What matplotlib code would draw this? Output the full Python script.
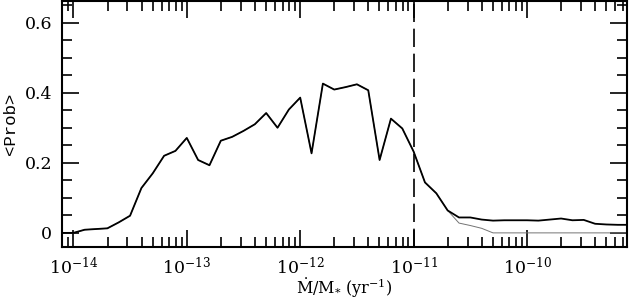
import matplotlib
matplotlib.use("Agg")
import matplotlib.pyplot as plt
from matplotlib.ticker import MultipleLocator, LogLocator, NullFormatter
import numpy as np

# log10 of accretion rate (Msun/yr) for each bin
log_mdot = [-14.1, -14.0, -13.9, -13.8, -13.7, -13.6, -13.5, -13.4, -13.3, -13.2,
            -13.1, -13.0, -12.9, -12.8, -12.7, -12.6, -12.5, -12.4, -12.3, -12.2,
            -12.1, -12.0, -11.9, -11.8, -11.7, -11.6, -11.5, -11.4, -11.3, -11.2,
            -11.1, -11.0, -10.9, -10.8, -10.7, -10.6, -10.5, -10.4, -10.3, -10.2,
            -10.1, -10.0, -9.9, -9.8, -9.7, -9.6, -9.5, -9.4, -9.3, -9.2, -9.1]

prob_all = [0.0, 0.0, 0.009, 0.011, 0.013, 0.030, 0.049, 0.128, 0.170, 0.220,
            0.234, 0.271, 0.208, 0.193, 0.263, 0.274, 0.291, 0.310, 0.342, 0.300,
            0.352, 0.386, 0.227, 0.426, 0.409, 0.416, 0.424, 0.407, 0.208, 0.326,
            0.298, 0.232, 0.144, 0.113, 0.064, 0.044, 0.044, 0.038, 0.035, 0.036,
            0.036, 0.036, 0.035, 0.038, 0.041, 0.036, 0.037, 0.026, 0.024, 0.023, 0.023]

prob_thin = [0.0, 0.0, 0.009, 0.011, 0.013, 0.030, 0.049, 0.128, 0.170, 0.220,
             0.234, 0.271, 0.208, 0.193, 0.263, 0.274, 0.291, 0.310, 0.342, 0.300,
             0.352, 0.386, 0.227, 0.426, 0.409, 0.416, 0.424, 0.407, 0.208, 0.326,
             0.298, 0.232, 0.144, 0.113, 0.064, 0.028, 0.021, 0.013, 0.0, 0.0,
             0.0, 0.0, 0.0, 0.0, 0.0, 0.0, 0.0, 0.0, 0.0, 0.0, 0.0]

xtick_vals = [1e-14, 1e-13, 1e-12, 1e-11, 1e-10]
ytick_vals = [0, 0.2, 0.4, 0.6]
ytick_labels = ['0', '0.2', '0.4', '0.6']

mdot_cut = 1e-11

plt.rcParams['font.family'] = ['DejaVu Serif']
plt.rcParams['mathtext.fontset'] = 'dejavuserif'

mdot = 10.0 ** np.array(log_mdot)

fig = plt.figure(figsize=(6.29, 3.0), dpi=100)
ax = fig.add_axes([0.0986, 0.177, 0.898, 0.82])

ax.plot(mdot, prob_thin, color='0.45', lw=0.7)
ax.plot(mdot, prob_all, color='black', lw=1.3)
ax.axvline(mdot_cut, color='black', lw=1.2, dashes=(11, 4))

ax.set_xscale('log')
ax.set_xlim(10 ** -14.1, 10 ** -9.12)
ax.set_ylim(-0.04, 0.662)

ax.set_yticks(ytick_vals)
ax.set_yticklabels(ytick_labels)
ax.yaxis.set_minor_locator(MultipleLocator(0.05))
ax.set_xticks(xtick_vals)
ax.set_xticklabels([r'$10^{%d}$' % round(np.log10(v)) for v in xtick_vals])
ax.xaxis.set_minor_locator(LogLocator(base=10, subs=np.arange(2, 10), numticks=20))
ax.xaxis.set_minor_formatter(NullFormatter())

ax.tick_params(which='both', direction='in', top=True, right=True, width=1.2,
               labelsize=12.5)
ax.tick_params(axis='x', which='major', pad=7)
ax.tick_params(axis='y', which='major', pad=7)
ax.tick_params(which='major', length=12)
ax.tick_params(which='minor', length=7)
for s in ax.spines.values():
    s.set_linewidth(1.5)

ax.set_xlabel(r'$\dot{\rm M}/{\rm M}_{*}$ (yr$^{-1}$)', fontsize=11.5, labelpad=-1)
ax.set_ylabel('<Prob>', fontsize=12.5, family='Liberation Mono', labelpad=5)

fig.savefig('out.png', dpi=100)
